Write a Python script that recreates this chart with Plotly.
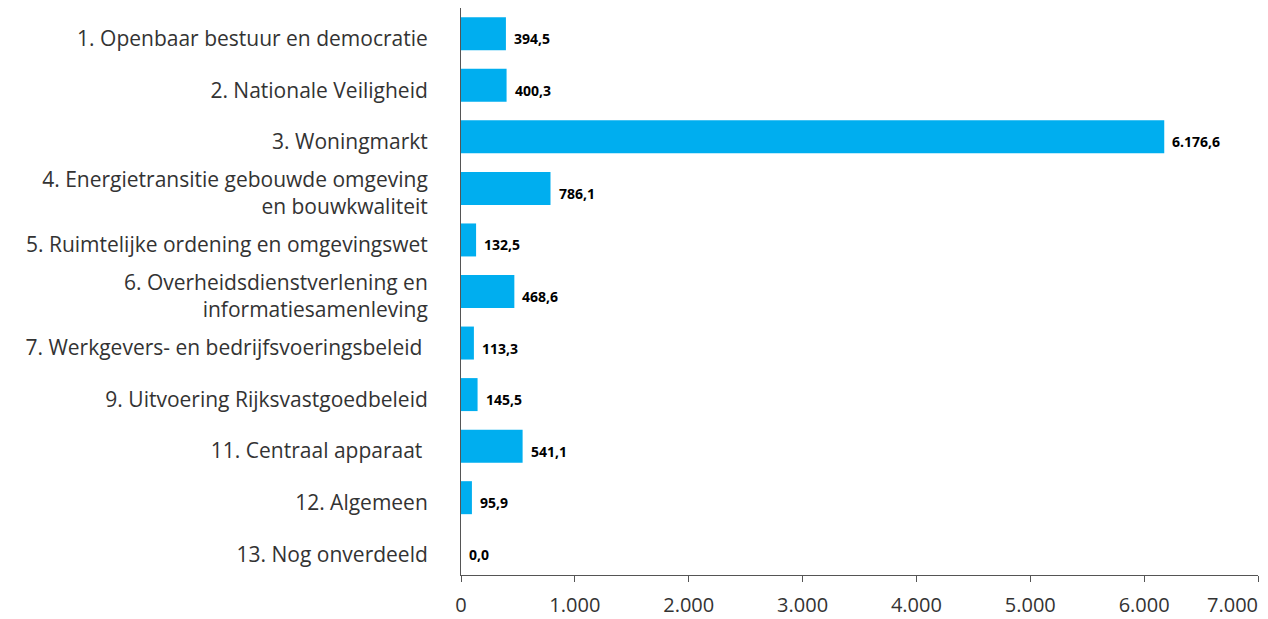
import plotly.graph_objects as go

categories = [
    "1. Openbaar bestuur en democratie",
    "2. Nationale Veiligheid",
    "3. Woningmarkt",
    "4. Energietransitie gebouwde omgeving<br>en bouwkwaliteit",
    "5. Ruimtelijke ordening en omgevingswet",
    "6. Overheidsdienstverlening en<br>informatiesamenleving",
    "7. Werkgevers- en bedrijfsvoeringsbeleid ",
    "9. Uitvoering Rijksvastgoedbeleid",
    "11. Centraal apparaat ",
    "12. Algemeen",
    "13. Nog onverdeeld",
]
values = [394.5, 400.3, 6176.6, 786.1, 132.5, 468.6, 113.3, 145.5, 541.1, 95.9, 0.0]
x_ticks = [0, 1000, 2000, 3000, 4000, 5000, 6000, 7000]
x_tick_text = ["0", "1.000", "2.000", "3.000", "4.000", "5.000", "6.000", "7.000"]

FONT = "Open Sans"


def nl(v):
    s = f"{v:,.1f}"
    return s.replace(",", "#").replace(".", ",").replace("#", ".")


fig = go.Figure(go.Bar(
    y=categories,
    x=values,
    orientation="h",
    marker=dict(color="#00AEEF", line=dict(width=0)),
    width=0.64,
    hoverinfo="x+y",
))

for cat, v in zip(categories, values):
    fig.add_annotation(
        x=v, y=cat, text=nl(v), showarrow=False,
        xanchor="left", yanchor="middle", xshift=6, yshift=-5,
        font=dict(family=FONT, size=14, color="#000000", weight="bold"),
    )

# last tick label sits flush-right against the axis end, as in the original
fig.add_annotation(
    x=x_ticks[-1], xref="x", y=0, yref="paper", text=x_tick_text[-1],
    showarrow=False, xanchor="right", yanchor="top", xshift=2, yshift=-14,
    font=dict(family=FONT, size=20, color="#333333"),
)

fig.update_layout(
    width=1260, height=611,
    margin=dict(l=453, r=10, t=0, b=44, autoexpand=False),
    plot_bgcolor="white", paper_bgcolor="white",
    separators=",.",
    showlegend=False,
    font=dict(family=FONT, size=21, color="#333333"),
    xaxis=dict(
        range=[0, 7000], tickvals=x_ticks,
        ticktext=x_tick_text[:-1] + [""],
        showgrid=False, zeroline=False,
        showline=True, linecolor="#555555", linewidth=1,
        ticks="outside", ticklen=6, tickcolor="#555555",
        ticklabelstandoff=6,
        tickfont=dict(size=20, color="#333333"),
        automargin=False,
    ),
    yaxis=dict(
        autorange="reversed", showgrid=False, zeroline=False,
        showline=True, linecolor="#555555", linewidth=1,
        ticks="", ticklabelstandoff=28, ticklabelshift=-5,
        tickfont=dict(size=21, color="#333333"),
        automargin=False,
    ),
)

fig.write_html("out.html")
